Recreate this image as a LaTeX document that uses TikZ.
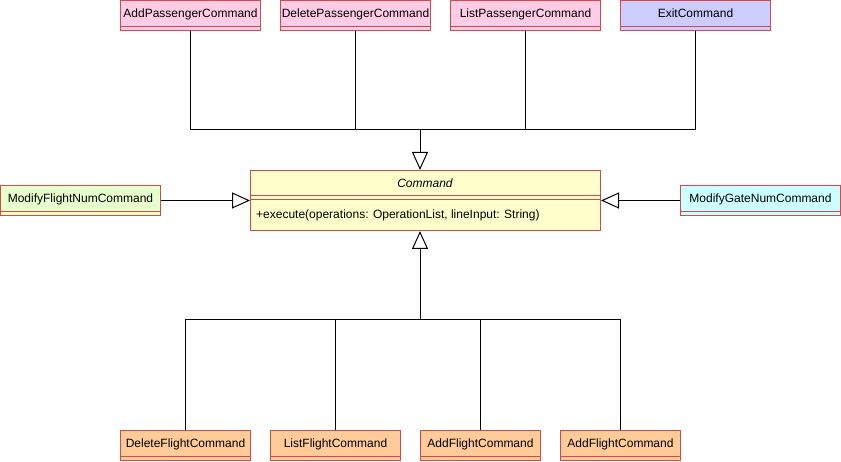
\documentclass[tikz,border=0pt]{standalone}
\usepackage{fontspec}
\setmainfont{Liberation Sans}
\usetikzlibrary{arrows.meta}
\definecolor{clsred}{HTML}{D94848}
\definecolor{pinkfill}{HTML}{FFCCE6}
\definecolor{bluefill}{HTML}{CCCCFF}
\definecolor{greenfill}{HTML}{E6FFCC}
\definecolor{cyanfill}{HTML}{CCFFFF}
\definecolor{yellowfill}{HTML}{FFFFCC}
\definecolor{orangefill}{HTML}{FFCC99}
\tikzset{
  cls/.style={draw=clsred, line width=1pt, inner sep=0pt, anchor=north west,
    font=\fontsize{12}{14}\selectfont, text height=17.3pt, text depth=12.7pt,
    path picture={\draw[clsred, line width=1pt] ([yshift=4pt]path picture bounding box.south west) -- ([yshift=4pt]path picture bounding box.south east);}},
  conn/.style={draw=black, line width=1pt},
  inh/.style={conn, -{Triangle[open, length=18pt, width=16pt]}},
  txt/.style={inner sep=0pt, font=\fontsize{12}{14}\selectfont}
}
\begin{document}
\begin{tikzpicture}[x=1pt, y=-1pt]
\useasboundingbox (0,0) rectangle (841,462);
% top classes
\node[cls, fill=pinkfill, minimum width=140pt] (addp) at (120,0) {AddPassengerCommand};
\node[cls, fill=pinkfill, minimum width=150pt] (delp) at (280,0) {DeletePassengerCommand};
\node[cls, fill=pinkfill, minimum width=150pt] (listp) at (450,0) {ListPassengerCommand};
\node[cls, fill=bluefill, minimum width=150pt] (exitc) at (620,0) {ExitCommand};
% side classes
\node[cls, fill=greenfill, minimum width=160pt] (mfn) at (0,185) {ModifyFlightNumCommand};
\node[cls, fill=cyanfill, minimum width=160pt] (mgn) at (680,185) {ModifyGateNumCommand};
% bottom classes
\node[cls, fill=orangefill, minimum width=130pt] (delf) at (120,430) {DeleteFlightCommand};
\node[cls, fill=orangefill, minimum width=130pt] (listf) at (270,430) {ListFlightCommand};
\node[cls, fill=orangefill, minimum width=120pt] (addfa) at (420,430) {AddFlightCommand};
\node[cls, fill=orangefill, minimum width=120pt] (addfb) at (560,430) {AddFlightCommand};
% Command class
\node[draw=clsred, line width=1pt, fill=yellowfill, anchor=north west, minimum width=350pt, minimum height=60pt, inner sep=0pt] (cmd) at (250,170) {};
\draw[clsred, line width=1pt] ([yshift=-26pt]cmd.north west) -- ([yshift=-26pt]cmd.north east);
\draw[clsred, line width=1pt] ([yshift=-30pt]cmd.north west) -- ([yshift=-30pt]cmd.north east);
\node[txt, font=\fontsize{12}{14}\selectfont\itshape] (cmdname) at (425,183) {Command};
\node[txt, anchor=west] (cmdop) at (256,215) {+execute(operations: OperationList, lineInput: String)};
% junctions
\coordinate (topj) at (420,130);
\coordinate (botj) at (420,320);
% top connectors
\draw[conn] (addp.south) |- (topj);
\draw[conn] (exitc.south) |- (topj);
\draw[conn] (delp.south) -- (delp.south |- topj);
\draw[conn] (listp.south) -- (listp.south |- topj);
\draw[inh] (topj) -- (topj |- cmd.north);
% side connectors
\draw[inh] (mfn.east) -- (cmd.west);
\draw[inh] (mgn.west) -- (cmd.east);
% bottom connectors
\draw[conn] (delf.north) |- (botj);
\draw[conn] (addfb.north) |- (botj);
\draw[conn] (listf.north) -- (listf.north |- botj);
\draw[conn] (addfa.north) -- (addfa.north |- botj);
\draw[inh] (botj) -- (botj |- cmd.south);
\end{tikzpicture}
\end{document}
